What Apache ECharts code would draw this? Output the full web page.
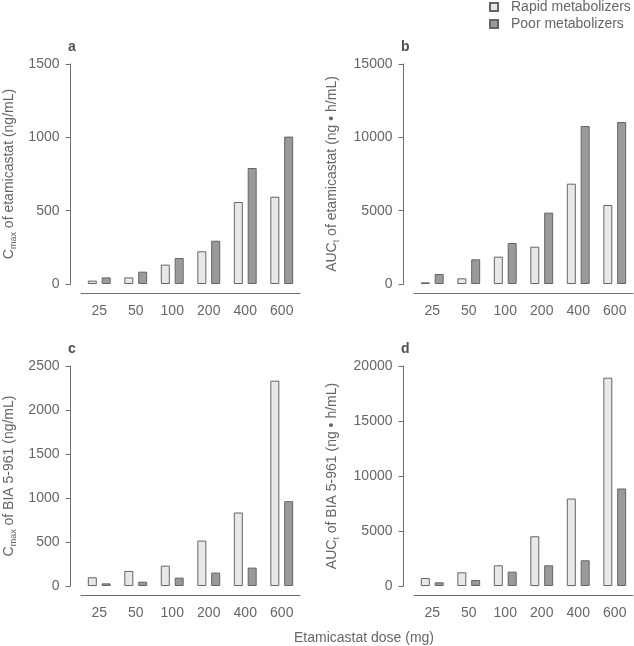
<!DOCTYPE html>
<html><head><meta charset="utf-8">
<script src="https://cdn.jsdelivr.net/npm/echarts@6/dist/echarts.min.js"></script>
<style>html,body{margin:0;padding:0;background:#fff}#c{width:634px;height:646px}</style>
</head><body><div id="c"></div>
<script>
const doses = ['25', '50', '100', '200', '400', '600'];
const seriesNames = ['Rapid metabolizers', 'Poor metabolizers'];
const cmaxEtaRapid = [23, 45, 132, 223, 559, 595];
const cmaxEtaPoor = [45, 84, 177, 295, 791, 1005];
const aucEtaRapid = [114, 386, 1864, 2545, 6841, 5386];
const aucEtaPoor = [682, 1682, 2795, 4864, 10773, 11045];
const cmaxBiaRapid = [99, 171, 231, 516, 835, 2333];
const cmaxBiaPoor = [30, 49, 95, 152, 209, 964];
const aucBiaRapid = [728, 1244, 1882, 4522, 7951, 18938];
const aucBiaPoor = [334, 546, 1305, 1882, 2337, 8862];
const yMax = [1500, 15000, 2500, 20000];
const yInterval = [500, 5000, 500, 5000];
const panelLetters = ['a', 'b', 'c', 'd'];
const yTitles = [
  '{m|C}{s|max}{m| of etamicastat (ng/mL)}',
  '{m|AUC}{s|t}{m| of etamicastat (ng \u2022 h/mL)}',
  '{m|C}{s|max}{m| of BIA 5-961 (ng/mL)}',
  '{m|AUC}{s|t}{m| of BIA 5-961 (ng \u2022 h/mL)}'
];
const xTitle = 'Etamicastat dose (mg)';

const FONT = 'Liberation Sans';
const TXT = '#666666';
const AX = '#6e6e6e';
const rapidFill = '#e8e8e8', poorFill = '#9a9a9a', barBorder = '#656565';

const panelData = [
  [cmaxEtaRapid, cmaxEtaPoor],
  [aucEtaRapid, aucEtaPoor],
  [cmaxBiaRapid, cmaxBiaPoor],
  [aucBiaRapid, aucBiaPoor]
];
const gridPos = [
  {left: 81, top: 64, width: 219, height: 220},
  {left: 414, top: 64, width: 219, height: 220},
  {left: 81, top: 366, width: 219, height: 220},
  {left: 414, top: 366, width: 219, height: 220}
];
const letterPos = [[68, 47], [401, 47], [68, 349], [401, 349]];
const yTitlePos = [[9, 174], [332, 174], [9, 476], [332, 476]];

const grids = [], xAxes = [], yAxes = [], series = [], graphics = [];
for (let i = 0; i < 4; i++) {
  grids.push(Object.assign({containLabel: false}, gridPos[i]));
  xAxes.push({
    type: 'category', gridIndex: i, data: doses, offset: 9,
    axisLine: {onZero: false, lineStyle: {color: AX, width: 1}},
    axisTick: {alignWithLabel: true, length: 4, lineStyle: {color: AX}},
    axisLabel: {fontFamily: FONT, fontSize: 14, color: TXT, margin: 11, interval: 0}
  });
  yAxes.push({
    type: 'value', gridIndex: i, min: 0, max: yMax[i], interval: yInterval[i], offset: 10.5,
    axisLine: {show: true, onZero: false, lineStyle: {color: AX, width: 1}},
    axisTick: {show: true, length: 5, lineStyle: {color: AX}},
    axisLabel: {fontFamily: FONT, fontSize: 14, color: TXT, margin: 11, formatter: v => String(v)},
    splitLine: {show: false}
  });
  const fills = [rapidFill, poorFill];
  for (let s = 0; s < 2; s++) {
    series.push({
      type: 'bar', name: seriesNames[s], xAxisIndex: i, yAxisIndex: i,
      data: panelData[i][s], barWidth: 9, barGap: '54%',
      itemStyle: {color: fills[s], borderColor: barBorder, borderWidth: 1},
      emphasis: {disabled: true}, animation: false
    });
  }
  graphics.push({
    type: 'text', x: letterPos[i][0], y: letterPos[i][1],
    style: {text: panelLetters[i], fontFamily: FONT, fontSize: 14, fontWeight: 'bold', fill: '#505050',
      align: 'left', verticalAlign: 'middle'}
  });
  graphics.push({
    type: 'text', x: yTitlePos[i][0], y: yTitlePos[i][1], rotation: Math.PI / 2,
    style: {text: yTitles[i], align: 'center', verticalAlign: 'middle',
      rich: {
        m: {fontFamily: FONT, fontSize: 14, fill: TXT, lineHeight: 18},
        s: {fontFamily: FONT, fontSize: 9, fill: TXT, lineHeight: 10, verticalAlign: 'bottom'}
      }}
  });
}
graphics.push({
  type: 'text', x: 364, y: 638,
  style: {text: xTitle, fontFamily: FONT, fontSize: 14, fill: TXT, align: 'center', verticalAlign: 'middle'}
});

const chart = echarts.init(document.getElementById('c'), null, {renderer: 'canvas'});
chart.setOption({
  animation: false,
  backgroundColor: '#fff',
  grid: grids, xAxis: xAxes, yAxis: yAxes, series: series,
  legend: {
    orient: 'vertical', left: 489, top: 0, padding: 0, itemWidth: 8, itemHeight: 8, itemGap: 3,
    icon: 'rect', selectedMode: false, data: seriesNames,
    textStyle: {fontFamily: FONT, fontSize: 14, color: TXT, lineHeight: 14, padding: [0, 0, 0, 8]}
  },
  graphic: graphics
});
</script></body></html>
